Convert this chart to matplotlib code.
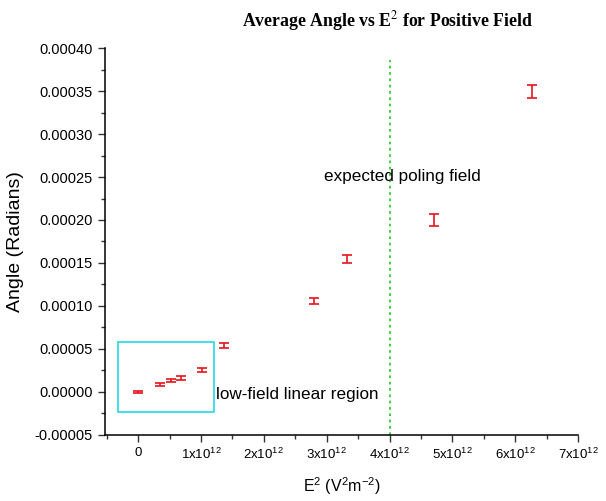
import matplotlib

matplotlib.use("Agg")
import matplotlib.pyplot as plt
from matplotlib.patches import Rectangle
from matplotlib.ticker import MultipleLocator, FuncFormatter

# E^2 (V^2 m^-2), angle (rad), error (rad)
e_sq = [0.0, 0.34e12, 0.52e12, 0.685e12, 1.015e12, 1.37e12, 2.79e12, 3.33e12, 4.70e12, 6.26e12]
angle = [0.0, 0.0000090, 0.0000131, 0.0000163, 0.0000252, 0.0000543, 0.0001058, 0.0001547, 0.000200, 0.000350]
err = [1.0e-6, 1.8e-6, 1.8e-6, 2.0e-6, 2.5e-6, 3.0e-6, 4.0e-6, 5.0e-6, 7.5e-6, 7.5e-6]

POLING = 4e12
RED = "#e8141c"

plt.rcParams.update({
    "font.family": ["Liberation Sans", "DejaVu Sans"],
    "mathtext.fontset": "custom",
    "mathtext.rm": "Liberation Sans",
    "mathtext.it": "Liberation Sans",
})

fig = plt.figure(figsize=(6.06, 5.01), dpi=100, facecolor="white")
ax = fig.add_axes([0.173, 0.132, 0.781, 0.772])

ax.errorbar(e_sq, angle, yerr=err, fmt="none", ecolor=RED, elinewidth=1.2,
            capsize=3.5, capthick=1.2)
ax.axvline(POLING, ymax=0.97, color="#33cc33", ls=(0, (1.5, 2)), lw=1.3)
ax.add_patch(Rectangle((-0.32e12, -0.0000233), 1.53e12, 0.0000814,
                       fill=False, edgecolor="#33dde8", lw=1.3))
ax.text(1.24e12, -0.0000035, "low-field linear region", fontsize=12.3, va="center")
ax.text(2.95e12, 0.000251, "expected poling field", fontsize=12.3, va="center")

ax.set_xlim(-0.53e12, 7e12)
ax.set_ylim(-0.00005, 0.0004)
ax.xaxis.set_major_locator(MultipleLocator(1e12))
ax.xaxis.set_minor_locator(MultipleLocator(0.5e12))
ax.yaxis.set_major_locator(MultipleLocator(0.00005))
ax.yaxis.set_minor_locator(MultipleLocator(0.000025))


def xfmt(v, _):
    n = int(round(v / 1e12))
    return "0" if n == 0 else rf"{n}x10$^{{12}}$"


ax.xaxis.set_major_formatter(FuncFormatter(xfmt))
ax.yaxis.set_major_formatter(FuncFormatter(lambda v, _: f"{v:.5f}"))
ax.tick_params(axis="y", labelsize=10.5)
ax.tick_params(axis="x", labelsize=9.5)
ax.tick_params(which="major", direction="out", length=5, width=1, color="#333333")
ax.tick_params(which="minor", direction="out", length=3, width=1, color="#333333")

for s in ("top", "right"):
    ax.spines[s].set_visible(False)
for s in ("left", "bottom"):
    ax.spines[s].set_linewidth(1.1)

ax.set_xlabel(r"E$^2$ (V$^2$m$^{-2}$)", fontsize=11.5, labelpad=10)
ax.set_ylabel("Angle (Radians)", fontsize=14, labelpad=8)
fig.text(0.64, 0.948, r"Average Angle vs E$^{2}$ for Positive Field", ha="center",
         fontsize=12.8, fontweight="bold", family="Liberation Serif",
         math_fontfamily="stix")

fig.savefig("out.png", dpi=100, facecolor="white")
